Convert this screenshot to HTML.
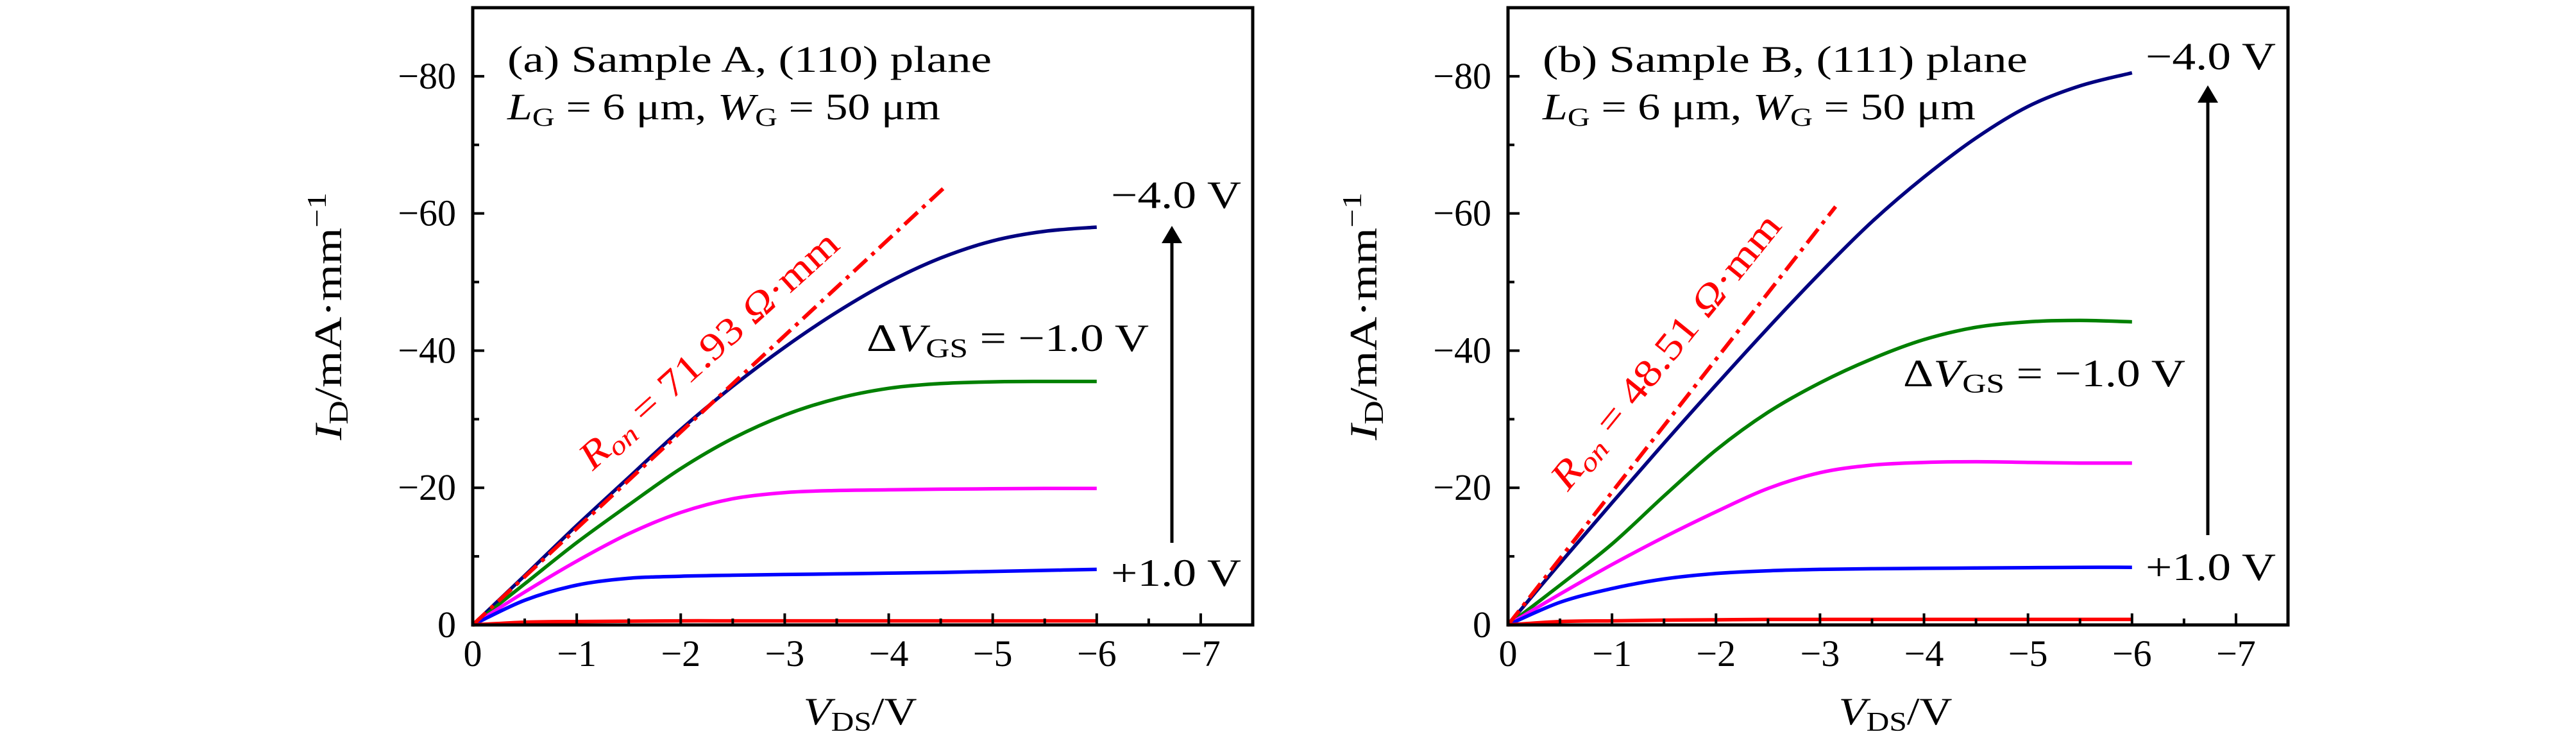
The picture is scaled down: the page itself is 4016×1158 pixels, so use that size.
<!DOCTYPE html>
<html><head><meta charset="utf-8"><style>
html,body{margin:0;padding:0;background:#fff;}
svg{display:block;font-family:"Liberation Serif","DejaVu Serif",serif;}
</style></head><body>
<svg id="fig" width="4016" height="1158" viewBox="0 0 4016 1158" xmlns="http://www.w3.org/2000/svg"></svg>
<script>
// ---- data (V_DS in V, I_D in mA/mm) ----
const vdsA = [0, -0.5, -1, -1.5, -2, -2.5, -3, -3.5, -4, -4.5, -5, -5.5, -6];
const a_m4 = [0, -7.2, -14.5, -21.5, -28.5, -34.8, -40.5, -45.6, -50.0, -53.5, -56.0, -57.4, -58.0];
const a_m3 = [0, -6.0, -12.0, -17.5, -22.8, -27.2, -30.6, -33.0, -34.5, -35.2, -35.45, -35.5, -35.5];
const a_m2 = [0, -4.8, -9.3, -13.3, -16.4, -18.4, -19.3, -19.6, -19.7, -19.8, -19.85, -19.9, -19.9];
const a_m1 = [0, -3.6, -5.8, -6.8, -7.1, -7.25, -7.35, -7.45, -7.55, -7.65, -7.8, -7.95, -8.1];
const a_p1 = [0, -0.4, -0.5, -0.55, -0.6, -0.6, -0.6, -0.6, -0.6, -0.6, -0.6, -0.6, -0.6];
const ronA = [[0, 0], [-4.55, -64.0]];

const vdsB = [0, -0.5, -1, -1.5, -2, -2.5, -3, -3.5, -4, -4.5, -5, -5.5, -6];
const b_m4 = [0, -9.0, -17.8, -26.5, -35.0, -43.3, -51.3, -58.8, -65.3, -71.0, -75.6, -78.6, -80.5];
const b_m3 = [0, -5.8, -11.8, -18.8, -25.5, -31.0, -35.3, -38.8, -41.6, -43.4, -44.2, -44.4, -44.2];
const b_m2 = [0, -4.5, -8.8, -12.8, -16.5, -19.9, -22.2, -23.3, -23.7, -23.8, -23.7, -23.6, -23.6];
const b_m1 = [0, -3.3, -5.3, -6.7, -7.5, -7.9, -8.1, -8.2, -8.25, -8.3, -8.35, -8.4, -8.4];
const b_p1 = [0, -0.5, -0.6, -0.7, -0.75, -0.8, -0.8, -0.8, -0.8, -0.8, -0.8, -0.8, -0.8];
const ronB = [[0, 0], [-3.15, -61.0]];

const xTicks = [0, -1, -2, -3, -4, -5, -6, -7];
const xTickLabels = ["0", "−1", "−2", "−3", "−4", "−5", "−6", "−7"];
const yTicks = [0, -20, -40, -60, -80];
const yTickLabels = ["0", "−20", "−40", "−60", "−80"];
const colors = ["#000080", "#008000", "#ff00ff", "#0000ff", "#ff0000"];

const NS = "http://www.w3.org/2000/svg";
const svg = document.getElementById("fig");
function el(tag, attrs, parent) {
  const e = document.createElementNS(NS, tag);
  for (const k in attrs) e.setAttribute(k, attrs[k]);
  (parent || svg).appendChild(e);
  return e;
}
function smoothPath(pts) {
  let d = "M" + pts[0][0].toFixed(1) + "," + pts[0][1].toFixed(1);
  for (let i = 0; i < pts.length - 1; i++) {
    const p0 = pts[Math.max(0, i - 1)], p1 = pts[i], p2 = pts[i + 1], p3 = pts[Math.min(pts.length - 1, i + 2)];
    const c1x = p1[0] + (p2[0] - p0[0]) / 6, c1y = p1[1] + (p2[1] - p0[1]) / 6;
    const c2x = p2[0] - (p3[0] - p1[0]) / 6, c2y = p2[1] - (p3[1] - p1[1]) / 6;
    d += " C" + c1x.toFixed(1) + "," + c1y.toFixed(1) + " " + c2x.toFixed(1) + "," + c2y.toFixed(1) + " " + p2[0].toFixed(1) + "," + p2[1].toFixed(1);
  }
  return d;
}

function panel(cfg) {
  const L = cfg.L, W = 1216, T = 12, B = 974, H = B - T;
  const sx = v => L + (v / -7.5) * W;
  const sy = i => B - (i / -90) * H;
  const g = el("g", {});
  
  

  cfg.series.forEach((s, k) => {
    const pts = cfg.vds.map((v, j) => [sx(v), sy(s[j])]);
    const p = el("path", {d: smoothPath(pts), fill: "none", stroke: colors[k], "stroke-width": 5.5, "stroke-linejoin": "round"}, g);
    
    
  });
  const r = el("line", {x1: sx(cfg.ron[0][0]), y1: sy(cfg.ron[0][1]), x2: sx(cfg.ron[1][0]), y2: sy(cfg.ron[1][1]),
    stroke: "#ff0000", "stroke-width": 6, "stroke-dasharray": "28 10 6 10"}, g);
  
  

  for (let v = 0; v >= -7.5; v -= 0.5) {
    const major = Math.abs(v - Math.round(v)) < 1e-6;
    const t = el("line", {x1: sx(v), x2: sx(v), y1: B, y2: B - (major ? 18 : 10), stroke: "#000", "stroke-width": 4}, g);
    
    
  }
  xTicks.forEach((v, k) => {
    const t = el("text", {x: sx(v), y: 1038, "text-anchor": "middle", "font-size": 58}, g);
    t.textContent = xTickLabels[k];
    
    
  });
  for (let i = 0; i >= -90; i -= 10) {
    const major = i % 20 === 0;
    const t = el("line", {x1: L, x2: L + (major ? 18 : 10), y1: sy(i), y2: sy(i), stroke: "#000", "stroke-width": 4}, g);
    
    
  }
  yTicks.forEach((i, k) => {
    const t = el("text", {x: L - 26, y: sy(i) + 19, "text-anchor": "end", "font-size": 58}, g);
    t.textContent = yTickLabels[k];
    
    
  });
  const f = el("rect", {x: L, y: T, width: W, height: H, fill: "none", stroke: "#000", "stroke-width": 5}, g);
  
  

  const xt = el("text", {x: L + 604, y: 1129, "text-anchor": "middle", "font-size": 60, textLength: 177, lengthAdjust: "spacingAndGlyphs"}, g);
  xt.innerHTML = '<tspan font-style="italic">V</tspan><tspan font-size="42" dy="10">DS</tspan><tspan dy="-10">/V</tspan>';
  
  
  const yt = el("text", {x: 0, y: 0, "text-anchor": "middle", "font-size": 60, textLength: 386, lengthAdjust: "spacingAndGlyphs", transform: "translate(" + (L - 205) + ",493) rotate(-90)"}, g);
  yt.innerHTML = '<tspan font-style="italic">I</tspan><tspan font-size="42" dy="10">D</tspan><tspan dy="-10">/mA·mm</tspan><tspan font-size="42" dy="-24">−1</tspan>';
  
  

  const t1 = el("text", {x: L + cfg.tx, y: 112, "font-size": 58, textLength: cfg.t1len, lengthAdjust: "spacingAndGlyphs"}, g);
  t1.textContent = cfg.title;
  
  
  const t2 = el("text", {x: L + cfg.tx, y: 186, "font-size": 58, textLength: 675, lengthAdjust: "spacingAndGlyphs"}, g);
  t2.innerHTML = '<tspan font-style="italic">L</tspan><tspan font-size="40" dy="10">G</tspan><tspan dy="-10"> = 6 μm, </tspan><tspan font-style="italic">W</tspan><tspan font-size="40" dy="10">G</tspan><tspan dy="-10"> = 50 μm</tspan>';
  
  

  const rl = el("text", {x: 0, y: 0, "text-anchor": "middle", "font-size": 60, fill: "#ff0000", textLength: cfg.rlen, lengthAdjust: "spacingAndGlyphs",
    transform: "translate(" + cfg.rx + "," + cfg.ry + ") rotate(" + cfg.rang + ")"}, g);
  rl.innerHTML = '<tspan font-style="italic">R</tspan><tspan font-style="italic" font-size="42" dy="10">on</tspan><tspan dy="-10"> = ' + cfg.ronText + ' </tspan><tspan font-style="italic">Ω</tspan><tspan>·mm</tspan>';
  
  

  const dv = el("text", {x: cfg.dvx, y: cfg.dvy, "font-size": 60, textLength: 440, lengthAdjust: "spacingAndGlyphs"}, g);
  dv.innerHTML = 'Δ<tspan font-style="italic">V</tspan><tspan font-size="42" dy="10">GS</tspan><tspan dy="-10"> = −1.0 V</tspan>';
  
  

  const ar = el("line", {x1: cfg.ax, x2: cfg.ax, y1: cfg.ab, y2: cfg.at + 24, stroke: "#000", "stroke-width": 5}, g);
  
  
  const ah = el("polygon", {points: (cfg.ax - 16) + "," + (cfg.at + 27) + " " + (cfg.ax + 16) + "," + (cfg.at + 27) + " " + cfg.ax + "," + cfg.at, fill: "#000"}, g);
  
  
  const g1 = el("text", {x: cfg.lx, y: cfg.topY, "font-size": 60, textLength: 203, lengthAdjust: "spacingAndGlyphs"}, g);
  g1.textContent = "−4.0 V";
  
  
  const g2 = el("text", {x: cfg.lx, y: cfg.botY, "font-size": 60, textLength: 203, lengthAdjust: "spacingAndGlyphs"}, g);
  g2.textContent = "+1.0 V";
  
  
}

panel({name: "panel-a", L: 737, vds: vdsA, series: [a_m4, a_m3, a_m2, a_m1, a_p1],
  labels: ["vgs-m4", "vgs-m3", "vgs-m2", "vgs-m1", "vgs-p1"], ron: ronA,
  title: "(a) Sample A, (110) plane", tx: 54, t1len: 755,
  rx: 1118, ry: 560, rang: -42, ronText: "71.93", rlen: 522,
  dvx: 1351, dvy: 547, ax: 1827, at: 352, ab: 846, lx: 1732, topY: 324, botY: 913});
panel({name: "panel-b", L: 2351, vds: vdsB, series: [b_m4, b_m3, b_m2, b_m1, b_p1],
  labels: ["vgs-m4", "vgs-m3", "vgs-m2", "vgs-m1", "vgs-p1"], ron: ronB,
  title: "(b) Sample B, (111) plane", tx: 54, t1len: 756,
  rx: 2612, ry: 560, rang: -51, ronText: "48.51", rlen: 533,
  dvx: 2967, dvy: 602, ax: 3442, at: 133, ab: 834, lx: 3345, topY: 108, botY: 904});
</script>
</body></html>
